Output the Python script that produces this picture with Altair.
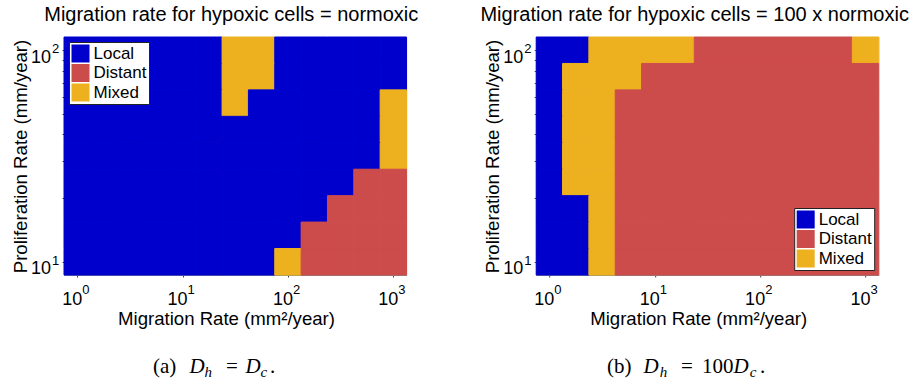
import altair as alt
import pandas as pd

# ---------------- data ----------------
MIGRATION = [1.0, 1.778, 3.162, 5.623, 10.0, 17.78, 31.62, 56.23, 100.0, 177.8, 316.2, 562.3, 1000.0]
PROLIFERATION = [10.0, 13.34, 17.78, 23.71, 31.62, 42.17, 56.23, 74.99, 100.0]
CODES = {"L": "Local", "D": "Distant", "M": "Mixed"}
CATEGORIES = ["Local", "Distant", "Mixed"]
COLORS = ["#0000CC", "#CC4C4C", "#EDB120"]

# rows listed from top (100) to bottom (10); columns left (1) to right (1000)
GRID_A = [
    "LLLLLLMMLLLLL",
    "LLLLLLMMLLLLL",
    "LLLLLLMLLLLLM",
    "LLLLLLLLLLLLM",
    "LLLLLLLLLLLLM",
    "LLLLLLLLLLLDD",
    "LLLLLLLLLLDDD",
    "LLLLLLLLLDDDD",
    "LLLLLLLLMDDDD",
]
GRID_B = [
    "LLMMMMDDDDDDM",
    "LMMMDDDDDDDDD",
    "LMMDDDDDDDDDD",
    "LMMDDDDDDDDDD",
    "LMMDDDDDDDDDD",
    "LMMDDDDDDDDDD",
    "LLMDDDDDDDDDD",
    "LLMDDDDDDDDDD",
    "LLMDDDDDDDDDD",
]
TITLE_A = "Migration rate for hypoxic cells = normoxic"
TITLE_B = "Migration rate for hypoxic cells = 100 x normoxic"
X_TITLE = "Migration Rate (mm\u00b2/year)"
Y_TITLE = "Proliferation Rate (mm/year)"
X_TICKS = [1, 10, 100, 1000]
X_EXP = ["0", "1", "2", "3"]
Y_TICKS = [10, 100]
Y_EXP = ["1", "2"]
Y_MINOR = [10, 20, 30, 40, 50, 60, 70, 80, 90, 100]


def edges(c):
    e = [c[0] / (c[1] / c[0]) ** 0.5]
    for i in range(len(c) - 1):
        e.append((c[i] * c[i + 1]) ** 0.5)
    e.append(c[-1] * (c[-1] / c[-2]) ** 0.5)
    return e


XE = edges(MIGRATION)
YE = edges(PROLIFERATION)


def grid_df(grid):
    rows = []
    n = len(PROLIFERATION)
    for r, line in enumerate(grid):
        j = n - 1 - r
        for i, ch in enumerate(line):
            rows.append({"x0": XE[i], "x1": XE[i + 1], "y0": YE[j], "y1": YE[j + 1],
                         "cat": CODES[ch]})
    return pd.DataFrame(rows)


# ---------------- style ----------------
W, H = 342.5, 238
SANS = "Liberation Sans"
SERIF = "Liberation Serif"
XS = alt.Scale(type="log", domain=[XE[0], XE[-1]], nice=False)
YS = alt.Scale(type="log", domain=[YE[0], YE[-1]], nice=False)

X_AXIS = alt.Axis(values=X_TICKS, labelExpr="'10'", labelOffset=-5.5, labelBaseline="alphabetic",
                  labelAlign="center", labelPadding=27, tickSize=2, grid=False,
                  labelFont=SANS, labelFontSize=18, labelColor="black",
                  domainColor="#888", tickColor="#444", labelOverlap=False,
                  title=X_TITLE, titleX=162, titleY=49, titleBaseline="alphabetic",
                  titleAlign="center", titleFont=SANS, titleFontSize=18.6,
                  titleFontWeight="normal", titleColor="black")
Y_AXIS = alt.Axis(values=Y_MINOR,
                  labelExpr="datum.value == 10 || datum.value == 100 ? '10' : ''",
                  labelAlign="right", labelBaseline="alphabetic", labelOffset=12,
                  labelPadding=11.5, tickSize=2, grid=False,
                  labelFont=SANS, labelFontSize=18, labelColor="black",
                  domainColor="#888", tickColor="#444", labelOverlap=False,
                  title=Y_TITLE, titleX=-38, titleY=119, titleAngle=270,
                  titleBaseline="alphabetic", titleAlign="center", titleFont=SANS,
                  titleFontSize=18.6, titleFontWeight="normal", titleColor="black")


def piece(text, x, y, size=21, italic=False):
    return alt.Chart(pd.DataFrame({"t": [text]})).mark_text(
        align="left", baseline="alphabetic", font=SERIF, fontSize=size,
        fontStyle="italic" if italic else "normal", color="black"
    ).encode(text="t:N", x=alt.value(x), y=alt.value(y))


def panel(grid, title, tdx, legend_orient, caption):
    rects = alt.Chart(grid_df(grid)).mark_rect().encode(
        x=alt.X("x0:Q", scale=XS, axis=X_AXIS),
        x2="x1:Q",
        y=alt.Y("y0:Q", scale=YS, axis=Y_AXIS),
        y2="y1:Q",
        fill=alt.Fill("cat:N", scale=alt.Scale(domain=CATEGORIES, range=COLORS),
                      legend=alt.Legend(orient=legend_orient, offset=5, title=None,
                                        fillColor="white", strokeColor="#222",
                                        padding=2.5, symbolType="square", symbolSize=324,
                                        symbolStrokeWidth=0, labelFont=SANS,
                                        labelFontSize=17, labelOffset=4, rowPadding=1.5,
                                        labelColor="black")),
        stroke=alt.Stroke("cat:N", scale=alt.Scale(domain=CATEGORIES, range=COLORS),
                          legend=None),
    ).properties(width=W, height=H)

    xexp = alt.Chart(pd.DataFrame({"x0": X_TICKS, "e": X_EXP})).mark_text(
        align="left", baseline="alphabetic", font=SANS, fontSize=13, dx=5, color="black"
    ).encode(x=alt.X("x0:Q", scale=XS, axis=X_AXIS), y=alt.value(H + 19.3), text="e:N")
    yexp = alt.Chart(pd.DataFrame({"y0": Y_TICKS, "e": Y_EXP})).mark_text(
        align="left", baseline="alphabetic", font=SANS, fontSize=13, dy=2.8, color="black"
    ).encode(y=alt.Y("y0:Q", scale=YS, axis=Y_AXIS), x=alt.value(-12), text="e:N")

    caps = [piece(*p) for p in caption]
    return alt.layer(rects, xexp, yexp, *caps).properties(
        title=alt.TitleParams(text=title, font=SANS, fontSize=20, fontWeight="normal",
                              anchor="middle", frame="group", baseline="alphabetic",
                              offset=-4, dx=tdx, color="black"))


BY = 336
SY = 339.5
CAP_A = [("(a)", 89, BY), ("D", 125.5, BY, 21, True), ("h", 140.5, SY, 15, True),
         ("=", 162, BY), ("D", 181.5, BY, 21, True), ("c", 196.5, SY, 15, True),
         (".", 206, BY)]
CAP_B = [("(b)", 70.7, BY), ("D", 107.3, BY, 21, True), ("h", 123.5, SY, 15, True),
         ("=", 144.7, BY), ("100", 165.7, BY), ("D", 197.3, BY, 21, True),
         ("c", 213.5, SY, 15, True), (".", 223.7, BY)]

a = panel(GRID_A, TITLE_A, -4, "top-left", CAP_A)
b = panel(GRID_B, TITLE_B, -12.8, "bottom-right", CAP_B)

chart = alt.hconcat(a, b, spacing=129.2, bounds="flush").resolve_scale(
    fill="independent", stroke="independent"
).resolve_legend(fill="independent").properties(
    padding={"left": 10, "top": 4, "right": 0, "bottom": 2}
).configure_view(strokeWidth=0).configure(font=SANS)

chart.save("out.html", embed_options={"renderer": "svg", "actions": False})
